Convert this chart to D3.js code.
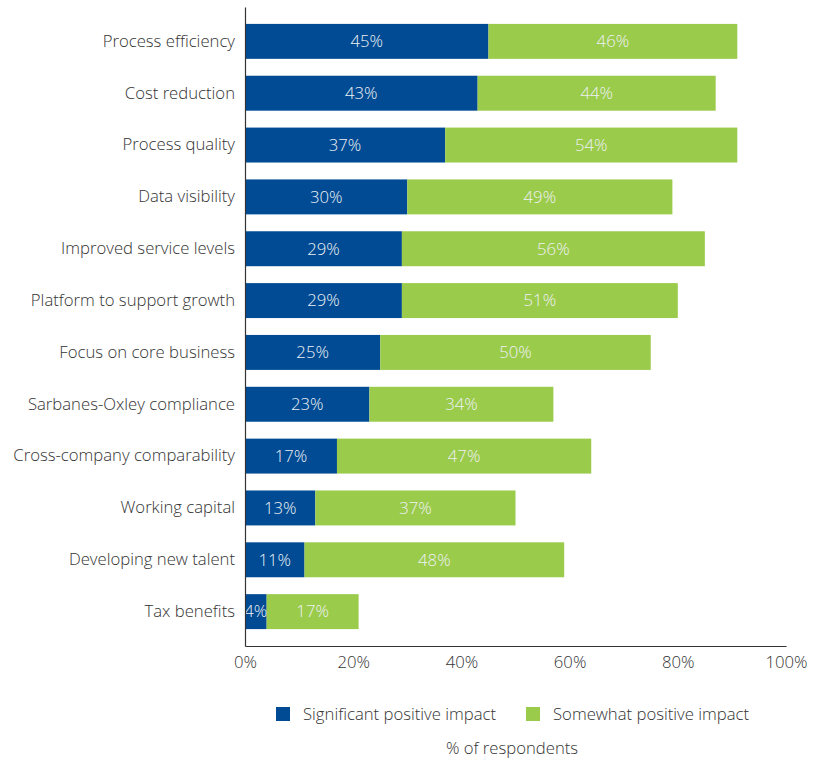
<!DOCTYPE html>
<html>
<head>
<meta charset="utf-8">
<script src="https://cdn.jsdelivr.net/npm/d3@7"></script>
<style>
  html, body { margin: 0; padding: 0; background: #fff; }
  svg { display: block; font-family: "Open Sans", "Noto Sans", sans-serif; font-weight: 300; }
</style>
</head>
<body>
<svg id="chart" width="827" height="761"></svg>
<script>
// Benefits reported, share of respondents by impact level
const categories = [
  "Process efficiency",
  "Cost reduction",
  "Process quality",
  "Data visibility",
  "Improved service levels",
  "Platform to support growth",
  "Focus on core business",
  "Sarbanes-Oxley compliance",
  "Cross-company comparability",
  "Working capital",
  "Developing new talent",
  "Tax benefits"
];
const significant = [45, 43, 37, 30, 29, 29, 25, 23, 17, 13, 11, 4];
const somewhat    = [46, 44, 54, 49, 56, 51, 50, 34, 47, 37, 48, 17];
const seriesNames = ["Significant positive impact", "Somewhat positive impact"];
const tickValues = [0, 20, 40, 60, 80, 100];
const axisTitle = "% of respondents";

const colors = ["#004b93", "#9bcb4b"];
const textColor = "#333333";
const fontFamily = "\"Open Sans\", \"Noto Sans\", sans-serif";
const fs = 16.7;

const svg = d3.select("#chart");
const plot = { left: 245, right: 786, top: 7, bottom: 646 };

const x = d3.scaleLinear().domain([0, 100]).range([plot.left, plot.right]);
const y = d3.scaleBand().domain(categories).range([plot.top, plot.bottom]).padding(0.326);

const rows = categories.map((c, i) => ({ cat: c, vals: [significant[i], somewhat[i]] }));

// stacked segments
const segs = [];
rows.forEach(r => {
  let acc = 0;
  r.vals.forEach((v, k) => {
    segs.push({ cat: r.cat, k, x0: acc, x1: acc + v, v });
    acc += v;
  });
});

svg.append("g").selectAll("rect").data(segs).join("rect")
  .attr("x", d => x(d.x0))
  .attr("y", d => y(d.cat))
  .attr("width", d => x(d.x1) - x(d.x0))
  .attr("height", y.bandwidth())
  .attr("fill", d => colors[d.k]);

svg.append("g").selectAll("text").data(segs).join("text")
  .attr("x", d => (x(d.x0) + x(d.x1)) / 2)
  .attr("y", d => y(d.cat) + y.bandwidth() / 2)
  .attr("dy", "0.35em")
  .attr("text-anchor", "middle")
  .attr("font-size", fs)
  .attr("fill", "#eef1f5")
  .text(d => d.v + "%");

// category axis
const yAxis = svg.append("g")
  .attr("transform", `translate(${plot.left},0)`)
  .call(d3.axisLeft(y).tickSize(0).tickPadding(10));
yAxis.select(".domain").attr("stroke", "#333").attr("stroke-width", 1.2);
yAxis.selectAll("text").attr("font-size", fs).attr("fill", textColor)
  .attr("font-family", fontFamily).attr("font-weight", 300);

// value axis
const xAxis = svg.append("g")
  .attr("transform", `translate(0,${plot.bottom})`)
  .call(d3.axisBottom(x).tickValues(tickValues).tickSize(0).tickPadding(10).tickFormat(d => d + "%"));
xAxis.select(".domain").attr("stroke", "#333").attr("stroke-width", 1.2);
xAxis.selectAll("text").attr("font-size", fs).attr("fill", textColor)
  .attr("font-family", fontFamily).attr("font-weight", 300);

// legend
const legendItems = [
  { name: seriesNames[0], color: colors[0], x: 276 },
  { name: seriesNames[1], color: colors[1], x: 526 }
];
const lg = svg.append("g").selectAll("g").data(legendItems).join("g")
  .attr("transform", d => `translate(${d.x},707)`);
lg.append("rect").attr("width", 14).attr("height", 14).attr("fill", d => d.color);
lg.append("text").attr("x", 27).attr("y", 7).attr("dy", "0.35em")
  .attr("font-size", fs).attr("fill", textColor).text(d => d.name);

svg.append("text")
  .attr("x", 512).attr("y", 748).attr("dy", "0.35em")
  .attr("text-anchor", "middle").attr("font-size", fs).attr("fill", textColor)
  .text(axisTitle);
</script>
</body>
</html>
